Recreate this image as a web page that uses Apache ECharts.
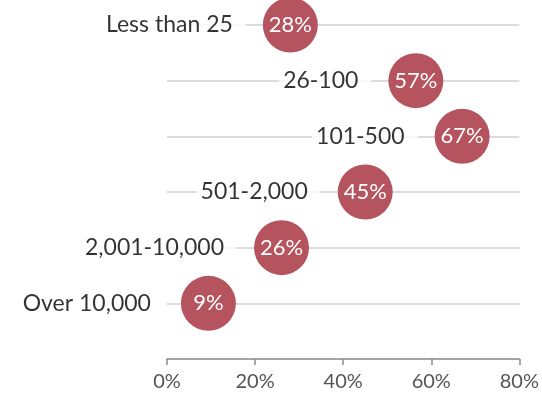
<!DOCTYPE html>
<html>
<head>
<meta charset="utf-8">
<script src="https://cdn.jsdelivr.net/npm/echarts@6/dist/echarts.min.js"></script>
<style>html,body{margin:0;padding:0;background:#fff}#c{width:542px;height:400px}</style>
</head>
<body>
<div id="c"></div>
<script>
const categories = ['Less than 25', '26-100', '101-500', '501-2,000', '2,001-10,000', 'Over 10,000'];
const values = [28, 56.5, 67, 45, 26, 9.4];
const xTicks = [0, 20, 40, 60, 80];

const FONT = 'Lato, "Open Sans", sans-serif';
const chart = echarts.init(document.getElementById('c'), null, {renderer: 'canvas'});
const pts = values.map((v, i) => [v, i]);

chart.setOption({
  animation: false,
  grid: {left: 167, right: 19, top: 25, bottom: 41},
  xAxis: {
    type: 'value', min: xTicks[0], max: xTicks[xTicks.length - 1], interval: 20,
    axisLine: {show: true, onZero: false, lineStyle: {color: '#888', width: 1.5}},
    axisTick: {show: true, inside: false, length: 6, lineStyle: {color: '#888', width: 1.5}},
    axisLabel: {formatter: '{value}%', color: '#555', fontSize: 20, fontFamily: FONT, margin: 13},
    splitLine: {show: false}
  },
  yAxis: {type: 'value', inverse: true, min: 0, max: 6, show: false},
  series: [
    {
      type: 'scatter', z: 1, silent: true, symbolSize: 0, data: [],
      markLine: {
        z: 1, silent: true, symbol: 'none', label: {show: false},
        lineStyle: {color: '#dcdcdc', width: 2, type: 'solid'},
        data: categories.map((c, i) => [{coord: [xTicks[0], i]}, {coord: [xTicks[xTicks.length - 1], i]}])
      }
    },
    {
      type: 'scatter', z: 2, silent: true, symbolSize: 55, clip: false,
      itemStyle: {color: 'rgba(0,0,0,0)'},
      data: pts.map((p, i) => ({value: p, name: categories[i]})),
      label: {
        show: true, position: 'left', distance: 17,
        formatter: p => p.name,
        color: '#000', fontSize: 23, fontFamily: FONT,
        backgroundColor: '#fff', padding: [3, 13, 3, 4]
      }
    },
    {
      type: 'scatter', z: 3, symbolSize: 55, clip: false,
      itemStyle: {color: '#b5535e', opacity: 1},
      data: pts,
      label: {
        show: true, position: 'inside',
        formatter: p => Math.round(p.value[0]) + '%',
        color: '#fff', fontSize: 22, fontFamily: FONT
      }
    }
  ]
});
</script>
</body>
</html>
